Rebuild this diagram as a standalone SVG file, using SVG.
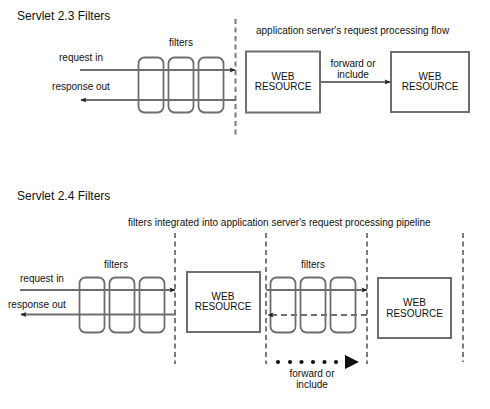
<svg xmlns="http://www.w3.org/2000/svg" width="490" height="409" viewBox="0 0 490 409">
<defs>
<style>
text{font-family:"Liberation Sans",Arial,sans-serif;font-size:10px;fill:#111}
.title{font-size:12px}
.c{text-anchor:middle}
.box{fill:#fff;stroke:#6e6e6e;stroke-width:2}
.flt{fill:none;stroke:#6e6e6e;stroke-width:1.8}
.ln{fill:none;stroke:#6e6e6e;stroke-width:1.8}
.dash{fill:none;stroke:#7a7a7a;stroke-width:2;stroke-dasharray:5 3.5}
.dln{fill:none;stroke:#6e6e6e;stroke-width:1.8;stroke-dasharray:6 4}
</style>
<marker id="ah" viewBox="0 0 10 10" refX="9" refY="5" markerWidth="9" markerHeight="6" markerUnits="userSpaceOnUse" orient="auto">
<path d="M0,1 L10,5 L0,9 L2,5 Z" fill="#222"/>
</marker>
</defs>
<rect width="490" height="409" fill="#fff"/>

<g id="titles">
<text class="title" x="17" y="20">Servlet 2.3 Filters</text>
<text x="256" y="34">application server's request processing flow</text>
<text class="title" x="17" y="200">Servlet 2.4 Filters</text>
<text x="128" y="226">filters integrated into application server's request processing pipeline</text>
</g>

<g id="boundaries">
<line class="dash" x1="235.5" y1="19" x2="235.5" y2="136"/>
<line class="dash" x1="175" y1="233" x2="175" y2="364"/>
<line class="dash" x1="266" y1="233" x2="266" y2="364"/>
<line class="dash" x1="367" y1="233" x2="367" y2="364"/>
<line class="dash" x1="463" y1="233" x2="463" y2="362"/>
</g>

<g id="filters-23">
<text class="c" x="181" y="46">filters</text>
<rect class="flt" x="138.5" y="57.5" width="25" height="55" rx="6"/>
<rect class="flt" x="168.5" y="57.5" width="25" height="55" rx="6"/>
<rect class="flt" x="198.5" y="57.5" width="25" height="55" rx="6"/>
</g>

<g id="web-resource-23a">
<rect class="box" x="246" y="51.5" width="74" height="61"/>
<text class="c" x="283" y="80">WEB</text>
<text class="c" x="283" y="90">RESOURCE</text>
</g>

<g id="web-resource-23b">
<rect class="box" x="391" y="52" width="78" height="60"/>
<text class="c" x="430" y="80">WEB</text>
<text class="c" x="430" y="90">RESOURCE</text>
</g>

<g id="filters-24a">
<text class="c" x="116" y="268">filters</text>
<rect class="flt" x="79.5" y="277.5" width="25" height="55" rx="6"/>
<rect class="flt" x="109.5" y="277.5" width="25" height="55" rx="6"/>
<rect class="flt" x="139.5" y="277.5" width="25" height="55" rx="6"/>
</g>

<g id="web-resource-24a">
<rect class="box" x="187" y="272" width="73" height="60"/>
<text class="c" x="223" y="300">WEB</text>
<text class="c" x="223" y="310">RESOURCE</text>
</g>

<g id="filters-24b">
<text class="c" x="313" y="268">filters</text>
<rect class="flt" x="270.5" y="277.5" width="25" height="55" rx="6"/>
<rect class="flt" x="300.5" y="277.5" width="25" height="55" rx="6"/>
<rect class="flt" x="330.5" y="277.5" width="25" height="55" rx="6"/>
</g>

<g id="web-resource-24b">
<rect class="box" x="378" y="278" width="73" height="60"/>
<text class="c" x="414.5" y="306">WEB</text>
<text class="c" x="414.5" y="316.5">RESOURCE</text>
</g>

<g id="connectors">
<line class="ln" x1="80" y1="70" x2="235" y2="70" marker-end="url(#ah)"/>
<text class="c" x="81" y="61">request in</text>
<line class="ln" x1="236" y1="100" x2="81" y2="100" marker-end="url(#ah)"/>
<text class="c" x="81" y="90">response out</text>
<line class="ln" x1="321" y1="82" x2="390" y2="82" marker-end="url(#ah)"/>
<text class="c" x="353" y="67">forward or</text>
<text class="c" x="353" y="77.5">include</text>

<line class="ln" x1="20" y1="290" x2="175" y2="290" marker-end="url(#ah)"/>
<text x="20" y="282">request in</text>
<line class="ln" x1="176" y1="314.5" x2="21" y2="314.5" marker-end="url(#ah)"/>
<text x="8" y="308">response out</text>

<line class="ln" x1="266" y1="290" x2="367" y2="290" marker-end="url(#ah)"/>
<line class="dln" x1="367" y1="315" x2="268" y2="315" marker-end="url(#ah)"/>

<g fill="#111">
<circle cx="278" cy="362" r="2.1"/>
<circle cx="290" cy="362" r="2.1"/>
<circle cx="301.5" cy="362" r="2.1"/>
<circle cx="313" cy="362" r="2.1"/>
<circle cx="324.5" cy="362" r="2.1"/>
<circle cx="336" cy="362" r="2.1"/>
<path d="M345,355 L359,362 L345,369 Z"/>
</g>
<text class="c" x="312" y="377">forward or</text>
<text class="c" x="312" y="387.5">include</text>
</g>
</svg>
